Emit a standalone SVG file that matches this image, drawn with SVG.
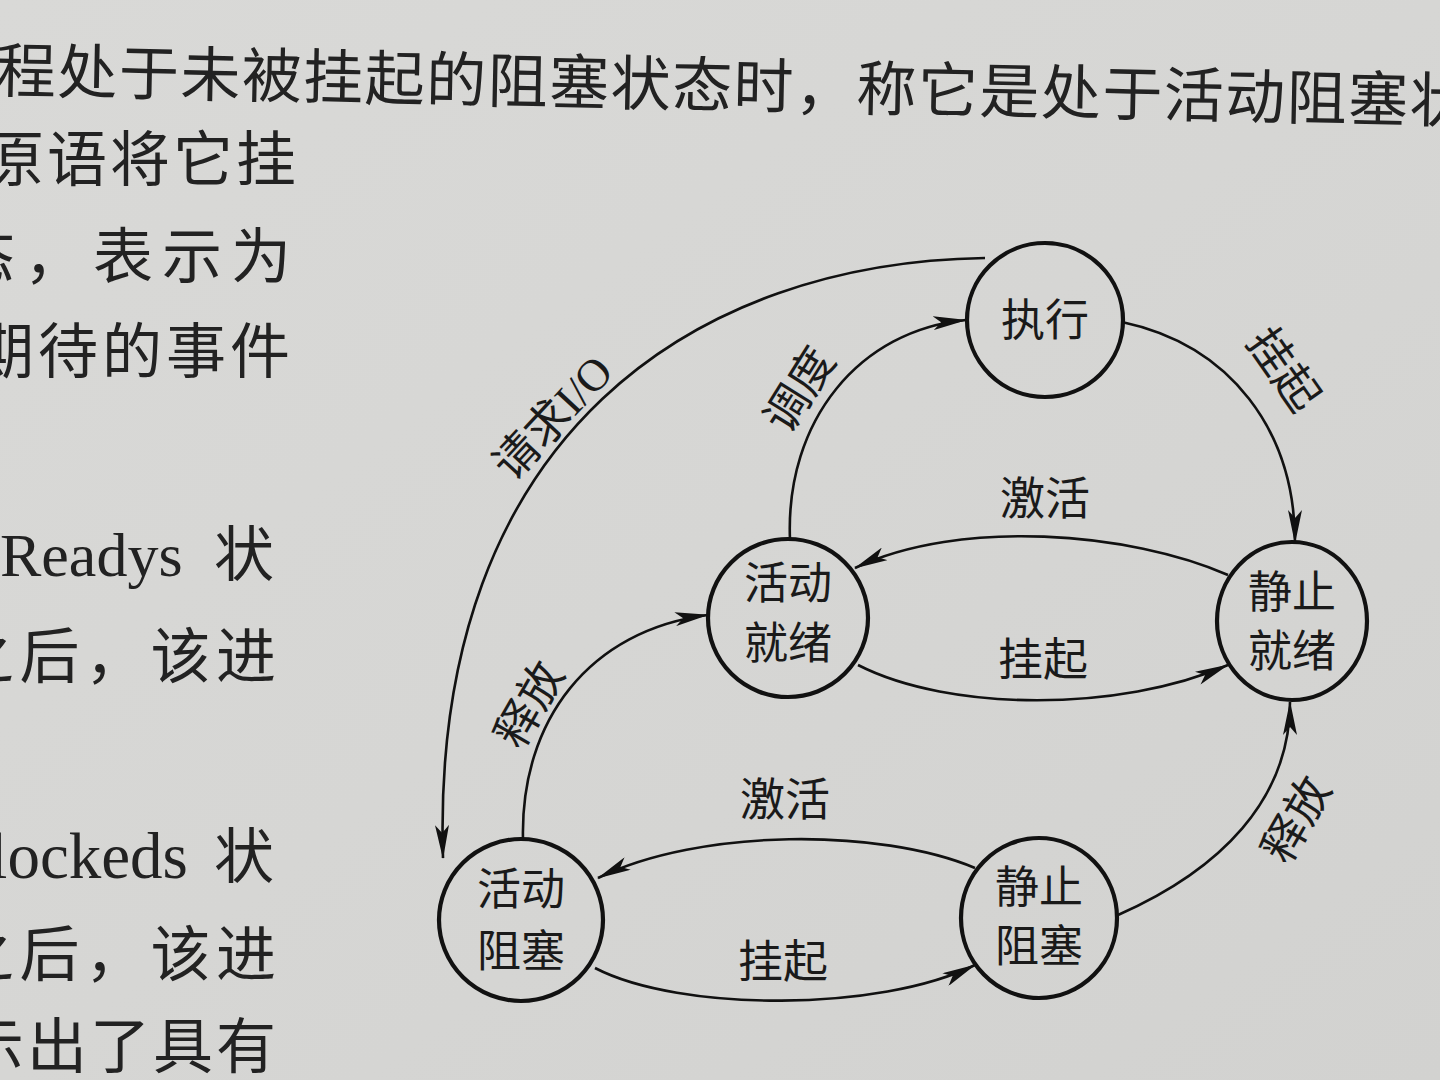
<svg xmlns="http://www.w3.org/2000/svg" width="1440" height="1080" viewBox="0 0 1440 1080">
<defs>
<linearGradient id="bg" x1="0" y1="0" x2="1" y2="1">
<stop offset="0" stop-color="#d9d9d7"/>
<stop offset="0.5" stop-color="#d6d6d4"/>
<stop offset="1" stop-color="#d2d2d0"/>
</linearGradient>
<marker id="arr" viewBox="0 0 34 14" refX="33" refY="7" markerWidth="34" markerHeight="14" markerUnits="userSpaceOnUse" orient="auto">
<path d="M0,0 L34,7 L0,14 L8,7 z" fill="#111"/>
</marker>
</defs>
<style>
.page{font-family:"Noto Sans CJK SC","Liberation Serif",sans-serif;font-size:60px;fill:#222}
.lat{font-family:"Liberation Serif","Noto Sans CJK SC",serif;font-size:62px;fill:#222}
.node ellipse{fill:none;stroke:#111;stroke-width:4.2}
.node text{font-family:"Noto Sans CJK SC",sans-serif;font-size:44px;fill:#1a1a1a;text-anchor:middle}
.edge{fill:none;stroke:#111;stroke-width:2.6;marker-end:url(#arr)}
.lbl{font-family:"Liberation Serif","Noto Sans CJK SC",sans-serif;font-size:45px;fill:#1a1a1a;text-anchor:middle}
</style>
<rect width="1440" height="1080" fill="url(#bg)"/>

<g id="page-text">
<text class="page" x="-4" y="92" textLength="1474" lengthAdjust="spacing" transform="rotate(1.2 0 70)">程处于未被挂起的阻塞状态时，称它是处于活动阻塞状</text>
<text class="page" x="-16" y="181" textLength="312" lengthAdjust="spacing">原语将它挂</text>
<text class="page" x="-45" y="278" textLength="336" lengthAdjust="spacing">态，表示为</text>
<text class="page" x="-26" y="373" textLength="316" lengthAdjust="spacing">期待的事件</text>
<text class="lat" x="0" y="576">Readys</text>
<text class="page" x="214" y="576">状</text>
<text class="page" x="-46" y="678" textLength="322" lengthAdjust="spacing">之后，该进</text>
<text class="lat" x="-54" y="878" style="font-size:65px">Blockeds</text>
<text class="page" x="214" y="878">状</text>
<text class="page" x="-46" y="976" textLength="322" lengthAdjust="spacing">之后，该进</text>
<text class="page" x="-36" y="1068" textLength="312" lengthAdjust="spacing">示出了具有</text>
</g>

<g id="connectors">
<path class="edge" d="M985 258 C700 262 430 430 443 858"/>
<path class="edge" d="M790 540 C785 420 860 330 966 320"/>
<path class="edge" d="M1122 322 C1230 345 1295 430 1295 543"/>
<path class="edge" d="M1228 575 C1130 532 960 518 855 568"/>
<path class="edge" d="M858 665 C950 712 1120 712 1228 665"/>
<path class="edge" d="M523 840 C520 720 590 630 708 615"/>
<path class="edge" d="M975 868 C880 828 700 828 598 878"/>
<path class="edge" d="M595 968 C680 1012 880 1012 975 965"/>
<path class="edge" d="M1118 915 C1220 870 1290 800 1290 702"/>
</g>

<g id="labels">
<text class="lbl" transform="translate(553 418) rotate(-47)" y="15">请求I/O</text>
<text class="lbl" transform="translate(800 390) rotate(-58)" y="15">调度</text>
<text class="lbl" transform="translate(1283 370) rotate(55)" y="15">挂起</text>
<text class="lbl" x="1045" y="515">激活</text>
<text class="lbl" x="1043" y="676">挂起</text>
<text class="lbl" transform="translate(530 705) rotate(-60)" y="15">释放</text>
<text class="lbl" x="785" y="816">激活</text>
<text class="lbl" x="783" y="978">挂起</text>
<text class="lbl" transform="translate(1297 820) rotate(-60)" y="15">释放</text>
</g>

<g id="node-exec" class="node">
<ellipse cx="1045" cy="320" rx="78" ry="77"/>
<text x="1045" y="336">执行</text>
</g>
<g id="node-static-ready" class="node">
<ellipse cx="1292" cy="621" rx="75" ry="79"/>
<text x="1292" y="608">静止</text>
<text x="1292" y="667">就绪</text>
</g>
<g id="node-active-ready" class="node">
<ellipse cx="788" cy="618" rx="80" ry="79"/>
<text x="788" y="599">活动</text>
<text x="788" y="659">就绪</text>
</g>
<g id="node-active-blocked" class="node">
<ellipse cx="521" cy="920" rx="82" ry="81"/>
<text x="521" y="905">活动</text>
<text x="521" y="967">阻塞</text>
</g>
<g id="node-static-blocked" class="node">
<ellipse cx="1039" cy="918" rx="78" ry="80"/>
<text x="1039" y="903">静止</text>
<text x="1039" y="962">阻塞</text>
</g>
</svg>
